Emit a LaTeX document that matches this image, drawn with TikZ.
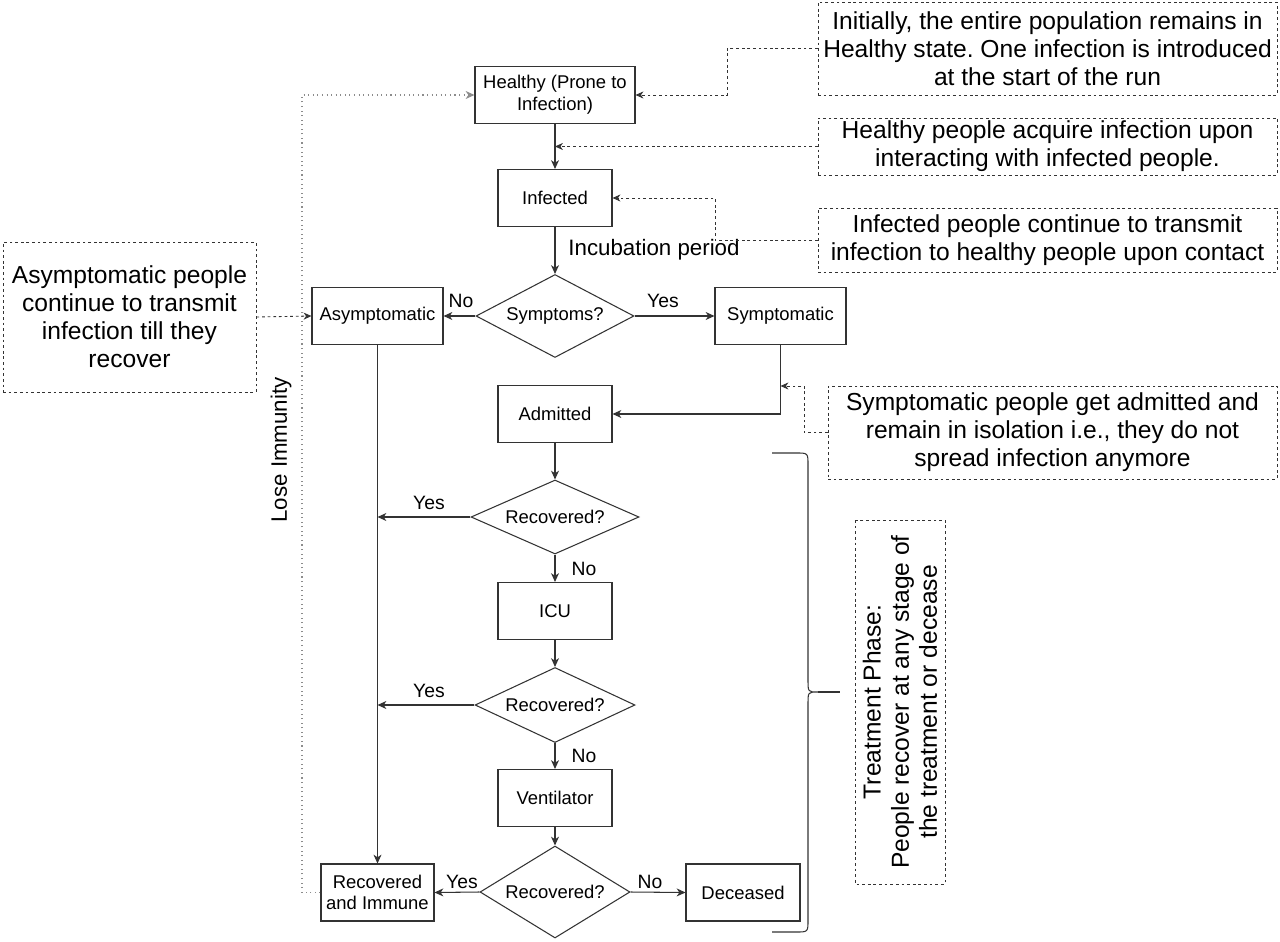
\documentclass[tikz,border=0pt]{standalone}
\usepackage{fontspec}
\setmainfont{Liberation Sans}
\usetikzlibrary{shapes.geometric,arrows.meta,calc}
\newcommand{\myboxfont}{\fontsize{10.5}{12.4}\selectfont}
\newcommand{\myannfont}{\fontsize{14}{16}\selectfont}
\newcommand{\mylabfont}{\fontsize{11}{13}\selectfont}
\newcommand{\mymidfont}{\fontsize{12.7}{15}\selectfont}
\definecolor{lineclr}{HTML}{333333}
\frenchspacing
\begin{document}
\begin{tikzpicture}[x=0.02cm,y=-0.02cm,
  box/.style={draw=lineclr,line width=0.6pt,rectangle,minimum height=1.14cm,inner sep=1pt,align=center,font=\myboxfont},
  dec/.style={draw=lineclr,line width=0.6pt,diamond,aspect=2.2,inner sep=0pt,align=center,font=\myboxfont},
  ann/.style={draw=lineclr,line width=0.5pt,dashed,dash pattern=on 1.6pt off 1.6pt,rectangle,inner sep=1pt,align=center,font=\myannfont},
  flow/.style={draw=lineclr,line width=0.6pt,-{Stealth[length=5pt,width=4.5pt,inset=1.5pt]}},
  note/.style={draw=lineclr,line width=0.5pt,dash pattern=on 1.6pt off 1.6pt,-{Stealth[length=4.5pt,width=4pt,inset=1.4pt]}},
  lab/.style={font=\mylabfont,inner sep=0pt}]
\useasboundingbox (0,0) rectangle (1280,942);
\fill[white] (0,0) rectangle (1280,942);

% main nodes
\node[box,minimum width=3.2cm] (healthy) at (555,95) {Healthy (Prone to\\Infection)};
\node[box,minimum width=2.28cm] (infected) at (555,198) {Infected};
\node[dec,minimum width=3.16cm,minimum height=1.66cm] (symp) at (555,316) {Symptoms?};
\node[box,minimum width=2.62cm] (asym) at (377.5,316) {Asymptomatic};
\node[box,minimum width=2.62cm] (sympt) at (780.5,316) {Symptomatic};
\node[box,minimum width=2.28cm] (admitted) at (555,414) {Admitted};
\node[dec,minimum width=3.36cm,minimum height=1.48cm] (rec1) at (555,517) {Recovered?};
\node[box,minimum width=2.28cm] (icu) at (555,611) {ICU};
\node[dec,minimum width=3.2cm,minimum height=1.5cm] (rec2) at (555,705) {Recovered?};
\node[box,minimum width=2.28cm] (vent) at (555,798) {Ventilator};
\node[dec,minimum width=3.0cm,minimum height=1.84cm] (rec3) at (555,892) {Recovered?};
\node[box,minimum width=2.26cm] (immune) at (377.5,892.5) {Recovered\\and Immune};
\node[box,minimum width=2.28cm] (deceased) at (743,892.5) {Deceased};

% annotation boxes
\node[ann,minimum width=9.18cm,minimum height=1.86cm] (a1) at (1047.5,48.5) {Initially, the entire population remains in\\Healthy state. One infection is introduced\\at the start of the run};
\node[ann,minimum width=9.18cm,minimum height=1.14cm] (a2) at (1047.5,146.5) {Healthy people acquire infection upon\\interacting with infected people.};
\node[ann,minimum width=9.18cm,minimum height=1.28cm] (a3) at (1047.5,240) {Infected people continue to transmit\\infection to healthy people upon contact};
\node[ann,minimum width=8.98cm,minimum height=1.86cm] (a4) at (1052.5,432.5) {Symptomatic people get admitted and\\remain in isolation i.e., they do not\\spread infection anymore};
\node[ann,minimum width=5.06cm,minimum height=3.0cm] (a5) at (129.5,317) {Asymptomatic people\\continue to transmit\\infection till they\\recover};
\node[ann,rotate=90,minimum width=7.28cm,minimum height=1.8cm] (treat) at (900,702) {Treatment Phase:\\People recover at any stage of\\the treatment or decease};

% labels
\node[lab] (lno1) at (461,301) {No};
\node[lab] (lyes1) at (663,301) {Yes};
\node[lab] (lyes2) at (429,503) {Yes};
\node[lab] (lno2) at (584,569) {No};
\node[lab] (lyes3) at (429,691) {Yes};
\node[lab] (lno3) at (584,756) {No};
\node[lab] (lyes4) at (462,882) {Yes};
\node[lab] (lno4) at (650,882) {No};
\node[font=\mymidfont,inner sep=0pt] (incub) at (654,250) {Incubation period};
\node[font=\mymidfont,inner sep=0pt,rotate=90] (lose) at (281,450) {Lose Immunity};

% helper coordinates
\coordinate (j1) at (377.5,517);
\coordinate (j2) at (377.5,705);
\coordinate (hmid) at (555,146.5);
\coordinate (smid) at (780.5,386);
\coordinate (scorner) at (780.5,414);

% main flow
\draw[flow] (healthy) -- (infected);
\draw[flow] (infected) -- (symp);
\draw[flow] (symp.west) -- (asym.east);
\draw[flow] (symp.east) -- (sympt.west);
\draw[flow] (sympt.south) -- (scorner) -- (admitted.east);
\draw[flow] (admitted) -- (rec1.north);
\draw[flow] (rec1.west) -- (j1);
\draw[flow] (rec1.south) -- (icu);
\draw[flow] (icu) -- (rec2.north);
\draw[flow] (rec2.west) -- (j2);
\draw[flow] (rec2.south) -- (vent);
\draw[flow] (vent) -- (rec3.north);
\draw[flow] (rec3.west) -- (immune.east);
\draw[flow] (rec3.east) -- (deceased.west);
\draw[flow] (asym.south) -- (immune.north);

% lose immunity loop
\draw[draw=black!45,line width=0.6pt,dotted,-{Stealth[length=5pt,width=4.5pt,inset=1.5pt]}] (immune.west) -- (302,892.5) -- (302,95) -- (healthy.west);

% annotation connectors
\draw[note] (a1.west) -- (727,48.5) -- (727,95) -- (healthy.east);
\draw[note] (a2.west) -- (hmid);
\draw[note] (a3.west) -- (715,240) -- (715,198) -- (infected.east);
\draw[note] (a4.west) -- (804,432.5) -- (804,386) -- (smid);
\draw[note] (a5.east) -- (asym.west);

% brace
\draw[draw=lineclr,line width=0.6pt] (772,453) -- (796,453) .. controls (808,453) and (808,453) .. (808,465) -- (808,680) .. controls (808,692) and (808,692) .. (818,692) .. controls (808,692) and (808,692) .. (808,704) -- (808,920) .. controls (808,932) and (808,932) .. (796,932) -- (772,932);
\draw[draw=lineclr,line width=0.6pt] (818,692) -- (840,692);
\end{tikzpicture}
\end{document}
